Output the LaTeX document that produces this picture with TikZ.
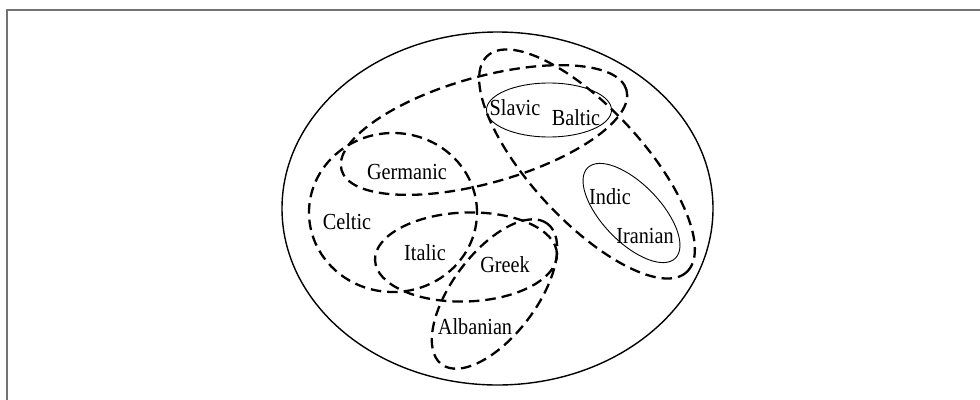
\documentclass[tikz,border=0pt]{standalone}
\usepackage{fontspec}
\setmainfont{Liberation Serif}
\newcommand{\narrowtext}[1]{\scalebox{0.88}[1]{#1}}
\begin{document}
\begin{tikzpicture}[x=1pt,y=1pt,
  grp/.style={line width=2.3pt, dash pattern=on 10.5pt off 6pt, line cap=butt},
  sub/.style={line width=0.9pt},
  outer/.style={line width=1.4pt},
  lbl/.style={inner sep=0pt, font=\fontsize{23}{27}\selectfont},
  frame/.style={draw=black!55, line width=2pt}]
\useasboundingbox (0,0) rectangle (980,-399);
% frame (top and left visible)
\draw[frame] (7,-420) -- (7,-10) -- (1000,-10);
% outer ellipse
\draw[outer] (497.5,-208.5) ellipse [x radius=215.5, y radius=176.5];
% solid sub-groups
\draw[sub] (549,-110) ellipse [x radius=62.5, y radius=27];
\draw[sub, rotate around={-46:(631.5,-213)}] (631.5,-213) ellipse [x radius=63, y radius=29];
% dashed groups
\draw[grp, rotate around={15.7:(484,-130)}] (484,-130) ellipse [x radius=148, y radius=53];
\draw[grp, rotate around={-47.3:(587,-164)}] (587,-164) ellipse [x radius=147, y radius=56];
\draw[grp] (393,-212.5) ellipse [x radius=84, y radius=79.5];
\draw[grp, rotate around={2:(466,-257)}] (466,-257) ellipse [x radius=91, y radius=44.5];
\draw[grp, rotate around={53:(494.5,-294)}] (494.5,-294) ellipse [x radius=88, y radius=42];
% labels
\node[lbl] (slavic) at (515,-108) {\narrowtext{Slavic}};
\node[lbl] (baltic) at (576,-118) {\narrowtext{Baltic}};
\node[lbl] (germanic) at (407,-172) {\narrowtext{Germanic}};
\node[lbl] (indic) at (610,-197) {\narrowtext{Indic}};
\node[lbl] (iranian) at (645,-236) {\narrowtext{Iranian}};
\node[lbl] (celtic) at (347,-222) {\narrowtext{Celtic}};
\node[lbl] (italic) at (425,-253) {\narrowtext{Italic}};
\node[lbl] (greek) at (505,-265) {\narrowtext{Greek}};
\node[lbl] (albanian) at (475,-327) {\narrowtext{Albanian}};
\end{tikzpicture}
\end{document}
